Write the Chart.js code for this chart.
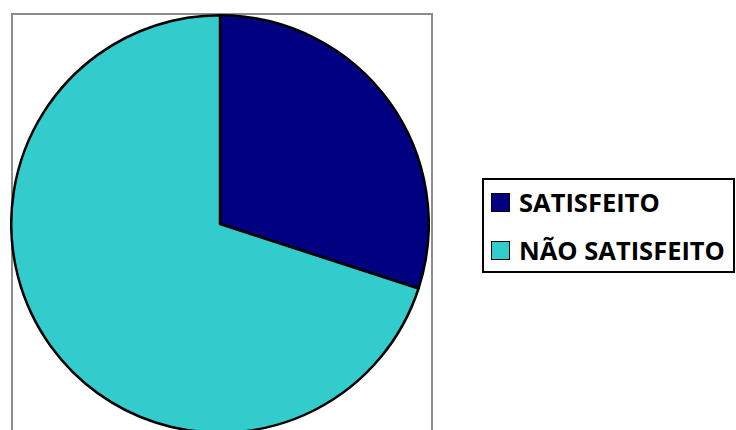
<!DOCTYPE html>
<html>
<head>
<meta charset="utf-8">
<script src="https://cdn.jsdelivr.net/npm/chart.js@4"></script>
<style>
  body { margin: 0; width: 736px; height: 430px; overflow: hidden; background: #fff; position: relative; font-family: "Open Sans", sans-serif; }
  #frame { position: absolute; left: 11px; top: 13px; width: 418px; height: 440px; border: 2px solid #8c8c8c; }
  #wrap { position: absolute; left: 10px; top: 14px; width: 420px; height: 420px; }
  #legend { position: absolute; left: 482px; top: 178px; width: 249px; height: 91px; border: 2px solid #000; }
  .item { position: absolute; left: 7px; height: 30px; display: flex; align-items: center; font-weight: bold; font-size: 25.5px; color: #000; white-space: nowrap; }
  .sw { width: 17px; height: 17px; border: 1px solid #000; margin-right: 9px; }
</style>
</head>
<body>
<div id="frame"></div>
<div id="wrap"><canvas id="pie"></canvas></div>
<div id="legend"></div>
<script>
let labels = ['SATISFEITO', 'NÃO SATISFEITO']
let values = [30, 70]
let colors = ['#000080', '#33CCCC']

function buildLegend() {
    let cartona = ``;
    for (let i = 0; i < labels.length; i++) {
        cartona += `<div class="item" style="top:${7 + i * 48}px">
                        <div class="sw" style="background:${colors[i]}"></div>${labels[i]}
                    </div>`;
    }
    document.getElementById('legend').innerHTML = cartona;
}
buildLegend();

const ctx = document.getElementById('pie').getContext('2d');
new Chart(ctx, {
    type: 'pie',
    data: {
        labels: labels,
        datasets: [{
            data: values,
            backgroundColor: colors,
            borderColor: '#000',
            borderWidth: 2.5
        }]
    },
    options: {
        responsive: true,
        maintainAspectRatio: false,
        animation: false,
        plugins: {
            legend: { display: false },
            tooltip: { enabled: false }
        }
    }
});
</script>
</body>
</html>
